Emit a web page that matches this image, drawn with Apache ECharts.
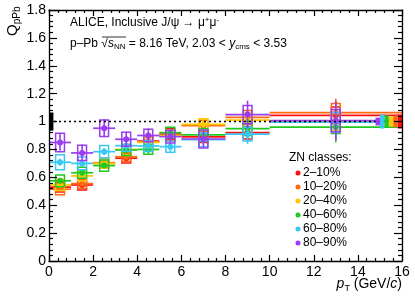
<!DOCTYPE html>
<html><head><meta charset="utf-8">
<script src="https://cdn.jsdelivr.net/npm/echarts@6/dist/echarts.min.js"></script>
<style>html,body{margin:0;padding:0;background:#fff}#c{width:415px;height:301px}</style>
</head><body><div id="c"></div>
<script>
// ---- data ----
const xCenter = [0.5, 1.5, 2.5, 3.5, 4.5, 5.5, 7, 9, 13];
const xLow    = [0, 1, 2, 3, 4, 5, 6, 8, 10];
const xHigh   = [1, 2, 3, 4, 5, 6, 8, 10, 16];
const classNames = ['2–10%', '10–20%', '20–40%', '40–60%', '60–80%', '80–90%'];

const qRed      = [0.530, 0.545, 0.700, 0.737, 0.860, 0.910, 0.890, 0.920, 1.045];
const qOrange   = [0.515, 0.555, 0.705, 0.748, 0.855, 0.900, 0.970, 1.030, 1.064];
const qYellow   = [0.545, 0.610, 0.700, 0.800, 0.850, 0.900, 0.980, 1.010, 1.000];
const qGreen    = [0.575, 0.633, 0.684, 0.796, 0.800, 0.920, 0.905, 0.950, 0.960];
const qBlue     = [0.708, 0.700, 0.784, 0.827, 0.825, 0.820, 0.870, 0.910, 0.995];
const qPurple   = [0.850, 0.775, 0.952, 0.873, 0.900, 0.892, 0.875, 1.050, 1.006];

const statRed    = [0.015, 0.015, 0.020, 0.020, 0.025, 0.030, 0.035, 0.060, 0.100];
const statOrange = [0.015, 0.015, 0.020, 0.020, 0.025, 0.030, 0.035, 0.060, 0.100];
const statYellow = [0.015, 0.020, 0.020, 0.020, 0.025, 0.030, 0.040, 0.060, 0.100];
const statGreen  = [0.020, 0.020, 0.020, 0.025, 0.030, 0.030, 0.040, 0.070, 0.110];
const statBlue   = [0.025, 0.025, 0.025, 0.030, 0.030, 0.035, 0.045, 0.070, 0.120];
const statPurple = [0.060, 0.060, 0.065, 0.055, 0.050, 0.050, 0.060, 0.100, 0.140];

const systRed    = [0.035, 0.035, 0.035, 0.035, 0.035, 0.040, 0.040, 0.045, 0.060];
const systOrange = [0.040, 0.035, 0.035, 0.035, 0.035, 0.040, 0.040, 0.050, 0.065];
const systYellow = [0.040, 0.035, 0.035, 0.035, 0.035, 0.040, 0.040, 0.050, 0.065];
const systGreen  = [0.042, 0.040, 0.040, 0.040, 0.035, 0.040, 0.045, 0.050, 0.045];
const systBlue   = [0.054, 0.045, 0.045, 0.040, 0.040, 0.040, 0.050, 0.050, 0.070];
const systPurple = [0.066, 0.055, 0.060, 0.050, 0.045, 0.045, 0.065, 0.065, 0.080];

const globalUnc = [0.050, 0.042, 0.035, 0.045, 0.050, 0.028]; // per class, same order
const commonUnc = 0.065;
const refValue = 1;

const colors = ['#ff1010', '#ff6a10', '#ffc800', '#20c820', '#38c8f5', '#9a3cf0'];
const qAll = [qRed, qOrange, qYellow, qGreen, qBlue, qPurple];
const statAll = [statRed, statOrange, statYellow, statGreen, statBlue, statPurple];
const systAll = [systRed, systOrange, systYellow, systGreen, systBlue, systPurple];

const FF = '"Liberation Sans", Arial, Helvetica, sans-serif';

function dataRender(color) {
  return function (params, api) {
    const xc = api.value(0), xl = api.value(1), xh = api.value(2);
    const y = api.value(3), st = api.value(4), sy = api.value(5);
    const bw = 0.2;
    const pL = api.coord([xl, y]), pH = api.coord([xh, y]);
    const tl = api.coord([xc - bw, y + sy]), br = api.coord([xc + bw, y - sy]);
    const sT = api.coord([xc, y + st]), sB = api.coord([xc, y - st]);
    const c = api.coord([xc, y]);
    return {
      type: 'group', children: [
        { type: 'rect', shape: { x: tl[0], y: tl[1], width: br[0] - tl[0], height: br[1] - tl[1] },
          style: { fill: 'none', stroke: color, lineWidth: 1.5 } },
        { type: 'line', shape: { x1: pL[0], y1: pL[1], x2: pH[0], y2: pH[1] }, style: { stroke: color, lineWidth: 1.7 } },
        { type: 'line', shape: { x1: sT[0], y1: sT[1], x2: sB[0], y2: sB[1] }, style: { stroke: color, lineWidth: 1.6 } },
        { type: 'circle', shape: { cx: c[0], cy: c[1], r: 3 }, style: { fill: color } }
      ]
    };
  };
}

const series = [];
// common uncertainty box at the left
series.push({
  type: 'custom', silent: true,
  data: [[0, commonUnc]],
  renderItem: function (params, api) {
    const u = api.value(1);
    const tl = api.coord([0, refValue + u]), br = api.coord([0.2, refValue - u]);
    return { type: 'rect', shape: { x: tl[0], y: tl[1], width: br[0] - tl[0], height: br[1] - tl[1] },
      style: { fill: '#000' } };
  }
});
series.push({
  type: 'line', silent: true, symbol: 'none',
  data: [[0, refValue], [16, refValue]],
  lineStyle: { color: '#000', width: 1.5, type: [2, 3] }
});
qAll.forEach((q, k) => {
  series.push({
    type: 'custom', name: classNames[k], silent: true,
    itemStyle: { color: colors[k] },
    data: q.map((v, i) => [xCenter[i], xLow[i], xHigh[i], v, statAll[k][i], systAll[k][i]]),
    renderItem: dataRender(colors[k])
  });
});
// global normalisation boxes at the right (drawn on top)
series.push({
  type: 'custom', silent: true, z: 5,
  data: globalUnc.map((u, i) => [i, u]),
  renderItem: function (params, api) {
    const i = api.value(0), u = api.value(1);
    const w = 0.2;
    const x1 = 16 - w * (i + 1), x2 = 16 - w * i;
    const tl = api.coord([x1, refValue + u]), br = api.coord([x2, refValue - u]);
    return { type: 'rect', shape: { x: tl[0], y: tl[1], width: br[0] - tl[0], height: br[1] - tl[1] },
      style: { fill: colors[i] } };
  }
});

const axCommon = {
  type: 'value', splitLine: { show: false },
  axisLine: { show: true, onZero: false, lineStyle: { color: '#000', width: 1.3 } },
  axisLabel: { color: '#000', fontSize: 14, fontFamily: FF }
};
function xAx(pos, showLabel) {
  return Object.assign({}, axCommon, {
    position: pos, min: 0, max: 16, interval: 2, z: 10,
    axisTick: { inside: true, length: 6, lineStyle: { color: '#000', width: 1.2 } },
    minorTick: { show: true, splitNumber: 5, length: 3, lineStyle: { color: '#000', width: 1.2 } },
    axisLabel: Object.assign({}, axCommon.axisLabel, { show: showLabel, margin: 4 })
  });
}
function yAx(pos, showLabel) {
  return Object.assign({}, axCommon, {
    position: pos, min: 0, max: 1.8, interval: 0.2, z: 10,
    axisTick: { inside: true, length: 8, lineStyle: { color: '#000', width: 1.2 } },
    minorTick: { show: true, splitNumber: 5, length: 4, lineStyle: { color: '#000', width: 1.2 } },
    axisLabel: Object.assign({}, axCommon.axisLabel, { show: showLabel, margin: 3 })
  });
}

const legendItems = [];
legendItems.push({ type: 'text', x: 289, y: 158, style: { text: 'ZN classes:', font: '12px ' + FF, fill: '#000', textVerticalAlign: 'middle' } });
classNames.forEach((n, k) => {
  const yy = 173 + 14 * k;
  legendItems.push({ type: 'circle', shape: { cx: 298, cy: yy, r: 2.5 }, style: { fill: colors[k] } });
  legendItems.push({ type: 'text', x: 303, y: yy, style: { text: n, font: '12px ' + FF, fill: '#000', textVerticalAlign: 'middle' } });
});

const option = {
  animation: false,
  backgroundColor: '#fff',
  grid: { left: 49, right: 13, top: 10, bottom: 40, containLabel: false, outerBoundsMode: 'none' },
  xAxis: [xAx('bottom', true), xAx('top', false)],
  yAxis: [yAx('left', true), yAx('right', false)],
  series: series,
  graphic: [
    { type: 'text', x: 70, y: 23, style: {
        text: 'ALICE, Inclusive J/ψ → μ{sup|+}μ{sup|-}', fill: '#000', textVerticalAlign: 'middle',
        font: '12px ' + FF,
        rich: { sup: { fontSize: 8, fontFamily: FF, verticalAlign: 'top', padding: [0, 0, 6, 0] } } } },
    { type: 'text', x: 70, y: 44, style: {
        text: 'p–Pb √{i|s}{sub|NN} = 8.16 TeV, 2.03 < {i|y}{sub|cms} < 3.53', fill: '#000', textVerticalAlign: 'middle',
        font: '12px ' + FF,
        rich: { i: { fontStyle: 'italic', fontSize: 12, fontFamily: FF },
                sub: { fontSize: 8, fontFamily: FF, padding: [6, 0, 0, 0] } } } },
    { type: 'line', shape: { x1: 102, y1: 37, x2: 126, y2: 37 }, style: { stroke: '#000', lineWidth: 0.8 } },
    { type: 'text', x: 13, y: 36, rotation: Math.PI / 2, style: {
        text: '{q|Q}{s|pPb}', fill: '#000', textVerticalAlign: 'middle',
        rich: { q: { fontSize: 15, fontFamily: FF }, s: { fontSize: 10, fontFamily: FF, padding: [8, 0, 0, 0] } } } },
    { type: 'text', x: 402, y: 284, style: {
        text: '{i|p}{s|T} (GeV/{i|c})', fill: '#000', textAlign: 'right', textVerticalAlign: 'middle',
        font: '14px ' + FF,
        rich: { i: { fontStyle: 'italic', fontSize: 14, fontFamily: FF }, s: { fontSize: 9, fontFamily: FF, padding: [9, 0, 0, 0] } } } }
  ].concat(legendItems)
};
const chart = echarts.init(document.getElementById('c'), null, { renderer: 'canvas' });
chart.setOption(option);
</script></body></html>
